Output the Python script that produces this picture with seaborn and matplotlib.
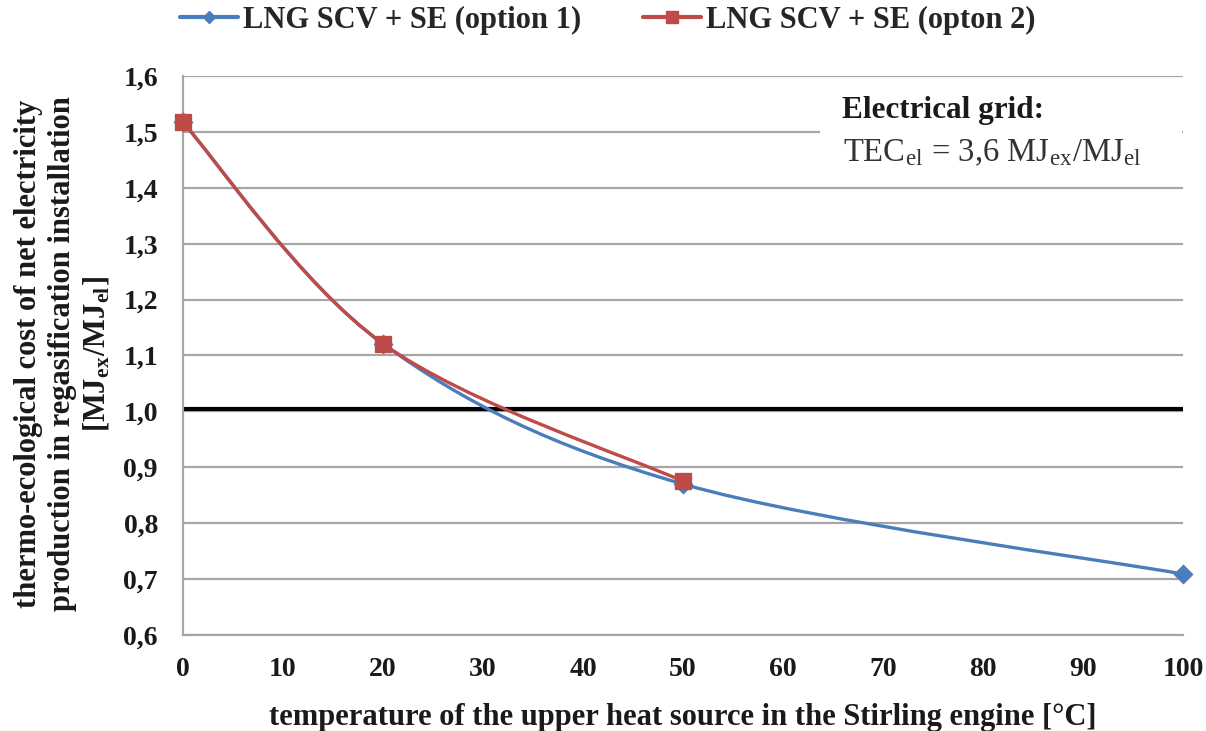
import numpy as np
import pandas as pd
import matplotlib
matplotlib.use("Agg")
import matplotlib.pyplot as plt
from matplotlib.path import Path
from matplotlib.patches import PathPatch, Rectangle
from matplotlib.lines import Line2D
import seaborn as sns

# ---- data ----
temps_opt1 = [0, 20, 50, 100]
tec_opt1 = [1.517, 1.121, 0.870, 0.709]
temps_opt2 = [0, 20, 50]
tec_opt2 = [1.517, 1.121, 0.875]
grid_level = 1.004
series_names = ["LNG SCV + SE (option 1)", "LNG SCV + SE (opton 2)"]
x_ticks = [0, 10, 20, 30, 40, 50, 60, 70, 80, 90, 100]
y_ticks = [0.6, 0.7, 0.8, 0.9, 1.0, 1.1, 1.2, 1.3, 1.4, 1.5, 1.6]
y_ticklabels = ["0,6", "0,7", "0,8", "0,9", "1,0", "1,1", "1,2", "1,3", "1,4", "1,5", "1,6"]
xlabel = "temperature of the upper heat source in the Stirling engine [°C]"
ylabel = ("thermo-ecological cost of net electricity\n"
          "production in regasification installation\n"
          r"[MJ$_{\mathregular{ex}}$/MJ$_{\mathregular{el}}$]")

BLUE = "#4A7EBB"
RED = "#BE4B48"
TXT = "#1a1a1a"

sns.set_theme(style="white")
plt.rcParams["font.family"] = ["Liberation Serif", "DejaVu Serif"]
plt.rcParams["mathtext.fontset"] = "stix"

df1 = pd.DataFrame({"t": temps_opt1, "v": tec_opt1})
df2 = pd.DataFrame({"t": temps_opt2, "v": tec_opt2})

fig = plt.figure(figsize=(12.06, 7.31), dpi=100)
ax = fig.add_axes([0.1517, 1 - 635 / 731, 0.981 - 0.1517, (635 - 76) / 731])


def smooth_patch(xs, ys, color, lw, z):
    pts = np.column_stack([xs, ys]).astype(float)
    verts = [pts[0]]
    codes = [Path.MOVETO]
    n = len(pts)
    for i in range(n - 1):
        p0 = pts[i - 1] if i > 0 else pts[i]
        p1 = pts[i]
        p2 = pts[i + 1]
        p3 = pts[i + 2] if i + 2 < n else pts[i + 1]
        c1 = p1 + (p2 - p0) / 6.0
        c2 = p2 - (p3 - p1) / 6.0
        verts += [c1, c2, p2]
        codes += [Path.CURVE4] * 3
    patch = PathPatch(Path(verts, codes), facecolor="none", edgecolor=color,
                      lw=lw, zorder=z, transform=ax.transData, capstyle="round")
    ax.add_patch(patch)


# gridlines
ax.set_axisbelow(True)
ax.grid(axis="y", color="#a6a6a6", lw=1.6)
ax.grid(axis="x", visible=False)

# white box behind annotation
ax.add_patch(Rectangle((63.7, 1.415), 36.2, 0.165, facecolor="white",
                       edgecolor="none", zorder=1))

# horizontal reference line for electrical grid
ax.plot([0, 100], [grid_level, grid_level], color="black", lw=3.0, zorder=2)

smooth_patch(df1["t"], df1["v"], BLUE, 2.4, 3)
sns.scatterplot(data=df1, x="t", y="v", marker="D", s=90, color=BLUE,
                edgecolor=BLUE, ax=ax, zorder=4, legend=False, clip_on=False)
smooth_patch(df2["t"], df2["v"], RED, 2.4, 5)
sns.scatterplot(data=df2, x="t", y="v", marker="s", s=140, color=RED,
                edgecolor=RED, ax=ax, zorder=6, legend=False, clip_on=False)

ax.set_xlim(0, 100)
ax.set_ylim(0.6, 1.6)
ax.set_xticks(x_ticks)
ax.set_xticklabels([str(t) for t in x_ticks], fontsize=20, fontweight="bold")
ax.set_yticks(y_ticks)
ax.set_yticklabels(y_ticklabels, fontsize=20, fontweight="bold")
ax.tick_params(axis="both", direction="out", length=7, width=1.5, color="#a6a6a6",
               labelcolor=TXT)
ax.tick_params(axis="y", pad=11)
ax.tick_params(axis="x", pad=9)

for s in ["top", "right"]:
    ax.spines[s].set_visible(False)
for s in ["left", "bottom"]:
    ax.spines[s].set_color("#a6a6a6")
    ax.spines[s].set_linewidth(1.6)

ax.set_xlabel("")
ax.set_ylabel("")
fig.text(0.5663, 1 - 718 / 731, xlabel, fontsize=22, fontweight="bold",
         color=TXT, ha="center", va="center")
fig.text(63 / 1206, 0.516, ylabel, fontsize=22, fontweight="bold", color=TXT,
         rotation=90, ha="center", va="center", multialignment="center",
         linespacing=1.2)

ax.text(65.9, 1.539, "Electrical grid:", fontsize=22.5, fontweight="bold",
        color=TXT, va="center", ha="left", zorder=7)
ax.text(66.0, 1.462,
        r"TEC$_{\mathregular{el}}$ = 3,6 MJ$_{\mathregular{ex}}$/MJ$_{\mathregular{el}}$",
        fontsize=23.5, color="#333333", va="center", ha="left", zorder=7)

handles = [
    Line2D([0], [0], color=BLUE, lw=3.0, marker="D", markersize=6),
    Line2D([0], [0], color=RED, lw=3.0, marker="s", markersize=9),
]
fig.legend(handles, series_names, loc="center", bbox_to_anchor=(0.504, 1 - 20 / 731),
           ncol=2, frameon=False, prop={"size": 22, "weight": "bold"},
           handlelength=1.9, handletextpad=0.17, columnspacing=2.0,
           borderpad=0, borderaxespad=0)

fig.savefig("out.png", dpi=100)
